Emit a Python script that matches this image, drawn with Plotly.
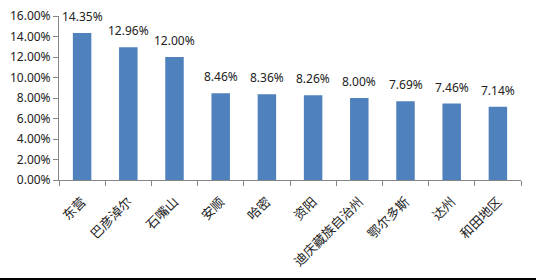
import plotly.graph_objects as go

categories = ["东营", "巴彦淖尔", "石嘴山", "安顺", "哈密", "资阳", "迪庆藏族自治州", "鄂尔多斯", "达州", "和田地区"]
values = [0.1435, 0.1296, 0.1200, 0.0846, 0.0836, 0.0826, 0.0800, 0.0769, 0.0746, 0.0714]
value_labels = ["14.35%", "12.96%", "12.00%", "8.46%", "8.36%", "8.26%", "8.00%", "7.69%", "7.46%", "7.14%"]

font_family = "Noto Sans, Noto Sans CJK SC, sans-serif"
text_color = "#222222"
axis_color = "#868686"

fig = go.Figure(go.Bar(
    x=categories,
    y=values,
    width=0.4,
    marker=dict(color="#4F81BD", line=dict(width=0)),
    cliponaxis=False,
))

for c, v, t in zip(categories, values, value_labels):
    fig.add_annotation(x=c, y=v, text=t, showarrow=False, yanchor="bottom",
                       yshift=6, font=dict(size=12, color=text_color, family=font_family))

fig.update_layout(
    width=536, height=280,
    margin=dict(l=59, r=15, t=16, b=100, autoexpand=False),
    paper_bgcolor="white", plot_bgcolor="white",
    showlegend=False,
    font=dict(family=font_family, size=12, color=text_color),
    shapes=[dict(type="rect", xref="paper", yref="paper", x0=-0.2, x1=1.1,
                 y0=-0.7, y1=-0.598, fillcolor="black", line=dict(width=0), layer="above")],
)
fig.update_xaxes(
    showgrid=False, showline=True, linecolor=axis_color, linewidth=1,
    ticks="outside", ticklen=5, tickcolor=axis_color, tickson="boundaries",
    tickangle=-45, ticklabelstandoff=8, automargin=False,
    tickfont=dict(size=13, family="Noto Sans CJK SC", color=text_color),
)
fig.update_yaxes(
    range=[0, 0.16], dtick=0.02, tickformat=".2%",
    showgrid=False, zeroline=False, showline=True, linecolor=axis_color, linewidth=1,
    ticks="outside", ticklen=5, tickcolor=axis_color, automargin=False,
    tickfont=dict(size=12, color=text_color),
)

fig.write_html("out.html")
